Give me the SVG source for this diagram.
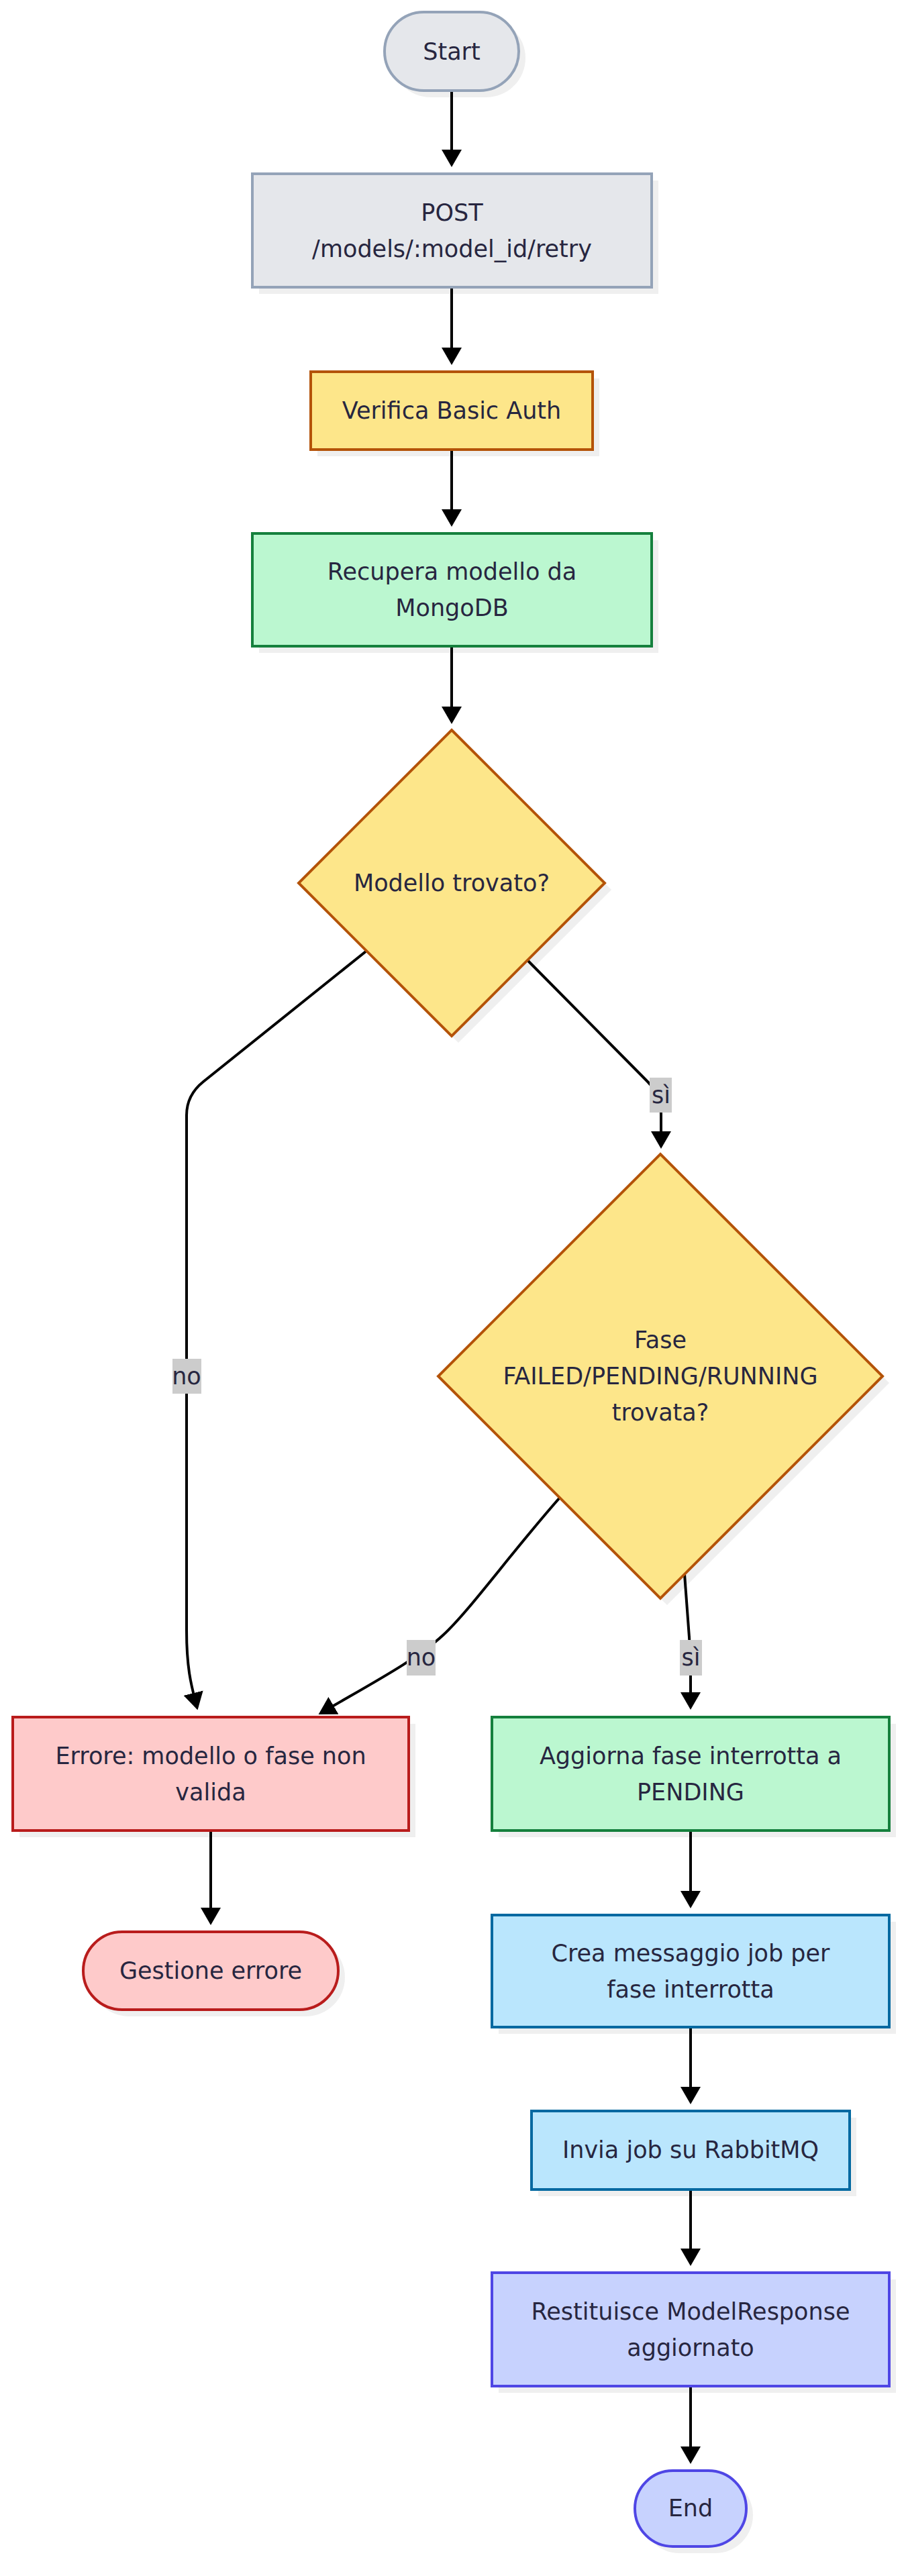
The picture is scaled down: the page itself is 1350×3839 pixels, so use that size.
<svg xmlns="http://www.w3.org/2000/svg" width="1350" height="3839" viewBox="0 0 1350 3839">
<style>
text{font-family:"DejaVu Sans","Liberation Sans",sans-serif;font-size:35px;fill:#272640;text-anchor:middle}
.sh{fill:#000;fill-opacity:.063;stroke:none}
.gray{fill:#e5e7eb;stroke:#94a3b8;stroke-width:4}
.amber{fill:#fde68a;stroke:#b45309;stroke-width:4}
.green{fill:#bbf7d0;stroke:#15803d;stroke-width:4}
.red{fill:#fecaca;stroke:#b91c1c;stroke-width:4}
.sky{fill:#bae6fd;stroke:#0369a1;stroke-width:4}
.indigo{fill:#c7d2fe;stroke:#4f46e5;stroke-width:4}
.edge{fill:none;stroke:#000;stroke-width:4;marker-end:url(#arr)}
.lbl{fill:#cccccc}
</style>
<defs>
<marker id="arr" viewBox="0 0 26 30" refX="22" refY="15" markerWidth="26" markerHeight="30" markerUnits="userSpaceOnUse" orient="auto">
<path d="M0,0 L26,15 L0,30 z" fill="#000"/>
</marker>
</defs>
<rect width="1350" height="3839" fill="#ffffff"/>

<g id="connectors">
<path class="edge" d="M673 135 L673 245"/>
<path class="edge" d="M673 428 L673 540"/>
<path class="edge" d="M673 670 L673 781"/>
<path class="edge" d="M673 963 L673 1075"/>
<path class="edge" d="M785 1430 L965 1612 Q985 1632 985 1660 L985 1708"/>
<path class="edge" d="M545 1418 L303 1612 Q278 1632 278 1662 L278 2430 C278 2490 286 2515 293.5 2544.5"/>
<path class="edge" d="M834 2232 C760 2316 700 2400 660 2437 C620 2474 555 2508 478 2553"/>
<path class="edge" d="M1020 2346 L1027 2440 Q1029 2470 1029 2500 L1029 2544"/>
<path class="edge" d="M314 2728 L314 2865"/>
<path class="edge" d="M1029 2728 L1029 2840"/>
<path class="edge" d="M1029 3021 L1029 3132"/>
<path class="edge" d="M1029 3263 L1029 3373"/>
<path class="edge" d="M1029 3556 L1029 3668"/>
<g id="edge-labels">
<rect class="lbl" x="968" y="1606" width="33" height="52"/>
<text x="985" y="1644">sì</text>
<rect class="lbl" x="257" y="2025" width="43" height="52"/>
<text x="278" y="2063">no</text>
<rect class="lbl" x="606" y="2444" width="43" height="53"/>
<text x="627.5" y="2482">no</text>
<rect class="lbl" x="1013" y="2444" width="33" height="53"/>
<text x="1029.5" y="2482">sì</text>
</g>
</g>

<g id="start">
<rect class="sh" x="583" y="28" width="200" height="117" rx="58.5"/>
<rect class="gray" x="573" y="18" width="200" height="117" rx="58.5"/>
<text x="673" y="88.5">Start</text>
</g>

<g id="post">
<rect class="sh" x="386" y="269" width="595" height="169"/>
<rect class="gray" x="376" y="259" width="595" height="169"/>
<text x="673.5" y="329">POST</text>
<text x="673.5" y="383">/models/:model_id/retry</text>
</g>

<g id="verifica">
<rect class="sh" x="473" y="564" width="420" height="116"/>
<rect class="amber" x="463" y="554" width="420" height="116"/>
<text x="673" y="624">Verifica Basic Auth</text>
</g>

<g id="recupera">
<rect class="sh" x="386" y="805" width="595" height="168"/>
<rect class="green" x="376" y="795" width="595" height="168"/>
<text x="673.5" y="864">Recupera modello da</text>
<text x="673.5" y="918">MongoDB</text>
</g>

<g id="modello-trovato">
<polygon class="sh" points="683,1098 911,1326 683,1554 455,1326"/>
<polygon class="amber" points="673,1088 901,1316 673,1544 445,1316"/>
<text x="673" y="1328">Modello trovato?</text>
</g>

<g id="fase-trovata">
<polygon class="sh" points="994,1730 1325,2061 994,2392 663,2061"/>
<polygon class="amber" points="984,1720 1315,2051 984,2382 653,2051"/>
<text x="984" y="2009">Fase</text>
<text x="984" y="2063">FAILED/PENDING/RUNNING</text>
<text x="984" y="2117">trovata?</text>
</g>

<g id="errore">
<rect class="sh" x="29" y="2569" width="590" height="169"/>
<rect class="red" x="19" y="2559" width="590" height="169"/>
<text x="314" y="2629">Errore: modello o fase non</text>
<text x="314" y="2683">valida</text>
</g>

<g id="aggiorna">
<rect class="sh" x="743" y="2569" width="592" height="169"/>
<rect class="green" x="733" y="2559" width="592" height="169"/>
<text x="1029" y="2629">Aggiorna fase interrotta a</text>
<text x="1029" y="2683">PENDING</text>
</g>

<g id="gestione-errore">
<rect class="sh" x="134" y="2889" width="380" height="116" rx="58"/>
<rect class="red" x="124" y="2879" width="380" height="116" rx="58"/>
<text x="314" y="2949">Gestione errore</text>
</g>

<g id="crea">
<rect class="sh" x="743" y="2864" width="592" height="167"/>
<rect class="sky" x="733" y="2854" width="592" height="167"/>
<text x="1029" y="2923">Crea messaggio job per</text>
<text x="1029" y="2977">fase interrotta</text>
</g>

<g id="invia">
<rect class="sh" x="802" y="3156" width="474" height="117"/>
<rect class="sky" x="792" y="3146" width="474" height="117"/>
<text x="1029" y="3216">Invia job su RabbitMQ</text>
</g>

<g id="restituisce">
<rect class="sh" x="743" y="3397" width="592" height="169"/>
<rect class="indigo" x="733" y="3387" width="592" height="169"/>
<text x="1029" y="3457">Restituisce ModelResponse</text>
<text x="1029" y="3511">aggiornato</text>
</g>

<g id="end">
<rect class="sh" x="956" y="3692" width="166" height="113" rx="56.5"/>
<rect class="indigo" x="946" y="3682" width="166" height="113" rx="56.5"/>
<text x="1029" y="3750">End</text>
</g>
</svg>
